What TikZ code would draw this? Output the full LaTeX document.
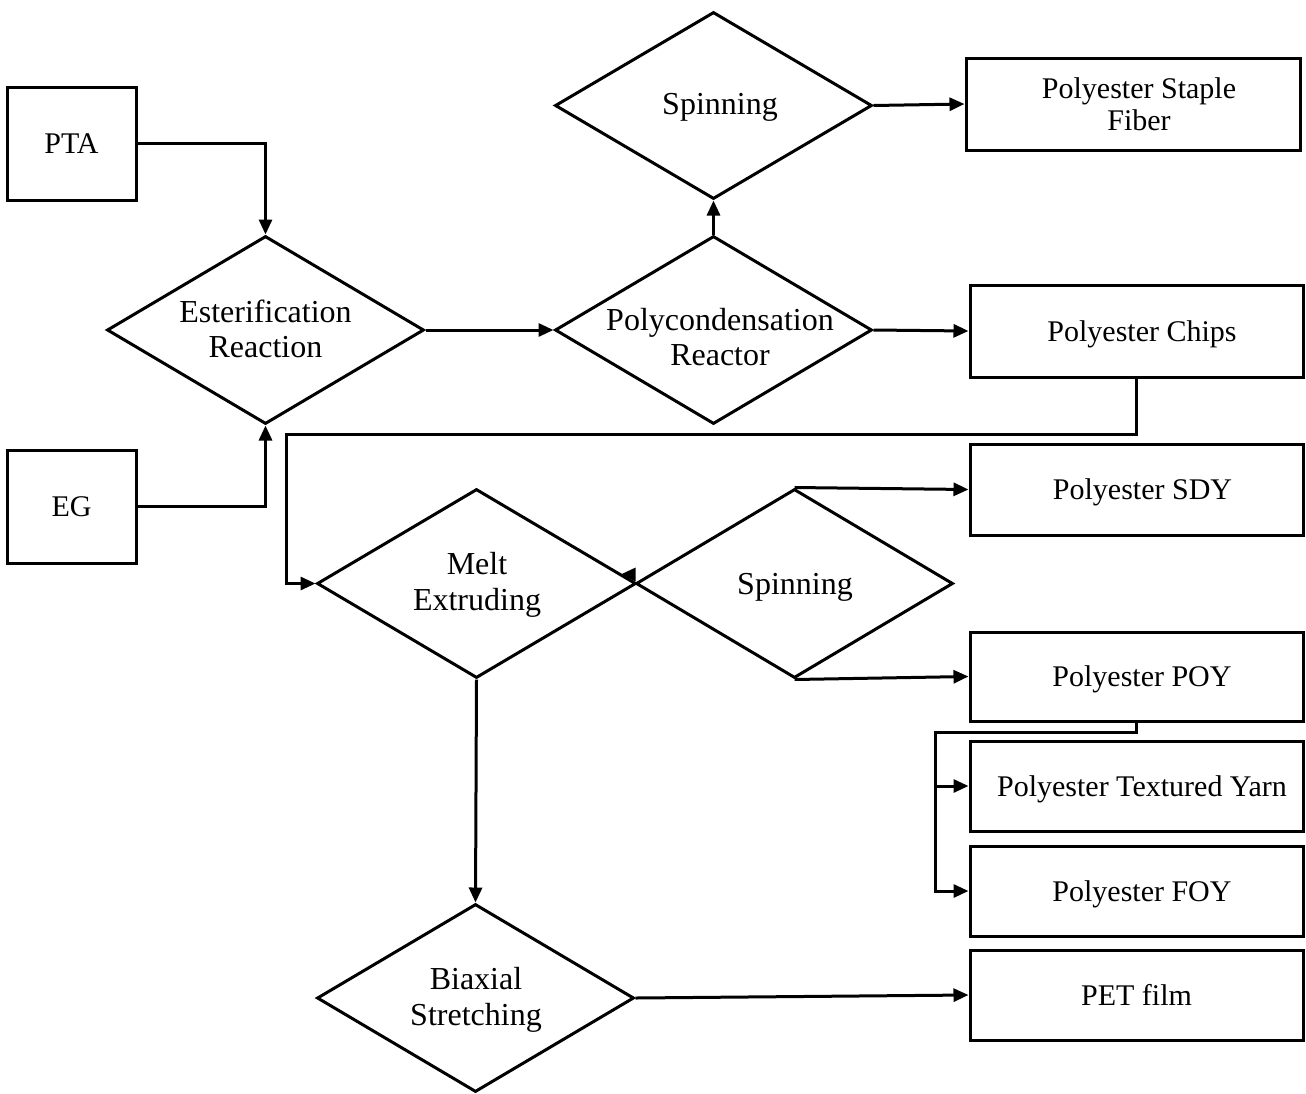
\documentclass[tikz,border=0pt]{standalone}
\usepackage{fontspec}
\setmainfont{Liberation Serif}
\usetikzlibrary{shapes.geometric,arrows.meta}
\begin{document}
\begin{tikzpicture}[x=1pt,y=-1pt,
  box/.style={draw,line width=3pt,rectangle,minimum width=#1,inner sep=0pt,align=center,
    text depth=0pt,font=\fontsize{30}{32}\selectfont},
  dia/.style={draw,line width=3pt,diamond,inner sep=0pt,minimum width=317pt,minimum height=188pt},
  txt/.style={align=center,inner sep=0pt,font=\fontsize{32}{35.5}\selectfont},
  arrow/.style={line width=3pt,-{Triangle[length=15pt,width=13pt]}}
]
\useasboundingbox (0,0) rectangle (1306,1093);

% raw materials
\node[box=129pt,minimum height=113pt,font=\fontsize{30}{32}\selectfont] (pta) at (71.5,143.5) {PTA};
\node[box=129pt,minimum height=113pt,font=\fontsize{30}{32}\selectfont] (eg) at (71.5,506.5) {EG};

% process steps
\node[dia] (est) at (265.5,330) {};
\node[txt] at (265.5,329) {Esterification\\Reaction};
\node[dia] (poly) at (713.5,330) {};
\node[txt] at (720,337) {Polycondensation\\Reactor};
\node[dia,minimum height=187pt] (spinA) at (713.5,105.5) {};
\node[txt] at (720,107) {Spinning};
\node[dia,minimum width=319pt,minimum height=189pt] (melt) at (476.5,583.5) {};
\node[txt] at (477,585) {Melt\\Extruding};
\node[dia,minimum height=189pt] (spinB) at (794.5,583.5) {};
\node[txt] at (795,587) {Spinning};
\node[dia] (biax) at (475.5,998) {};
\node[txt] at (476,1000) {Biaxial\\Stretching};

% products
\node[box=334pt,minimum height=92pt] (fiber) at (1133,104) {\hspace*{12pt}Polyester Staple\\\hspace*{12pt}Fiber};
\node[box=333pt,minimum height=92pt] (chips) at (1136.5,331) {\hspace*{11pt}Polyester Chips};
\node[box=333pt,minimum height=91pt] (sdy) at (1136.5,489.5) {\hspace*{12pt}Polyester SDY};
\node[box=333pt,minimum height=89pt] (poy) at (1136.5,676.5) {\hspace*{11pt}Polyester POY};
\node[box=333pt,minimum height=90pt] (tex) at (1136.5,786) {\hspace*{11pt}Polyester Textured Yarn};
\node[box=333pt,minimum height=90pt] (foy) at (1136.5,891) {\hspace*{11pt}Polyester FOY};
\node[box=333pt,minimum height=90pt] (pet) at (1136.5,995) {PET film};

% connectors
\draw[arrow] (pta.east) -| (est.north);
\draw[arrow] (eg.east) -| (est.south);
\draw[arrow] (est.east) -- (poly.west);
\draw[arrow] (poly.north) -- (spinA.south);
\draw[arrow] (spinA.east) -- (fiber.west);
\draw[arrow] (poly.east) -- (chips.west);
\draw[arrow] (chips.south) -- ++(0,56) -| ([xshift=-29pt]melt.west) -- (melt.west);
\draw[arrow] ([xshift=-2pt,yshift=9pt]spinB.west) -- ([xshift=-14pt,yshift=9pt]spinB.west);
\draw[arrow] (spinB.north) -- (sdy.west);
\draw[arrow] (spinB.south) -- (poy.west);
\draw[arrow] (poy.south) -- ++(0,10) -| ([xshift=-33pt]foy.west) -- (foy.west);
\draw[arrow] ([xshift=-33pt]tex.west) -- (tex.west);
\draw[arrow] (melt.south) -- (biax.north);
\draw[arrow] (biax.east) -- (pet.west);
\end{tikzpicture}
\end{document}
